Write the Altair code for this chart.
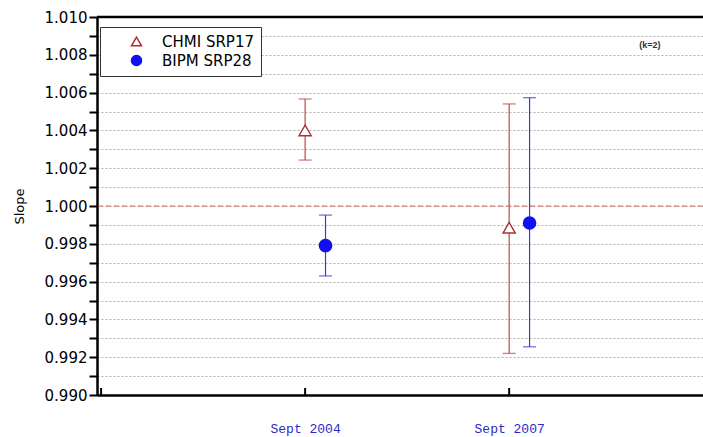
import altair as alt
import pandas as pd

# ---- data ----
series = ["CHMI SRP17", "BIPM SRP28"]
x_pos = [1.0, 1.1, 2.0, 2.1]
labs = ["CHMI SRP17", "BIPM SRP28", "CHMI SRP17", "BIPM SRP28"]
slope = [1.0040, 0.99790, 0.99885, 0.99910]
low = [1.00243, 0.99630, 0.99220, 0.99255]
high = [1.00566, 0.99952, 1.00540, 1.00573]

tick_pos = [1, 2]
tick_labels = ["Sept 2004", "Sept 2007"]
y_ticks = [round(0.990 + 0.001 * i, 3) for i in range(21)]

df = pd.DataFrame({"x": x_pos, "series": labs, "slope": slope, "low": low, "high": high})
ticks_df = pd.DataFrame({"x": [0] + tick_pos})
ref_df = pd.DataFrame({"y": [1.0]})
top_df = pd.DataFrame({"y": [1.010]})
ann_df = pd.DataFrame({"x": [2.69], "y": [1.0085], "t": ["(k=2)"]})

W, H = 606, 378
xdom = [-0.02, 2.95]
ydom = [0.990, 1.010]

stroke_cols = ["#a83232", "#1010f0"]
bar_cols = ["#b84a4a", "#3a3ad0"]
fill_cols = ["white", "#1010f0"]

label_expr = " : ".join(
    [f"datum.value == {p} ? '{l}'" for p, l in zip(tick_pos, tick_labels)]
) + " : ''"

xs = alt.Scale(domain=xdom, nice=False, zero=False)
ys = alt.Scale(domain=ydom, nice=False, zero=False)

x_axis = alt.Axis(values=[0] + tick_pos, labelExpr=label_expr, title=None, grid=False,
                  tickSize=0, labelPadding=27, labelFont="Liberation Mono",
                  labelFontSize=13, labelColor="#2a2acc", domainColor="black",
                  domainWidth=2.5)
y_axis = alt.Axis(values=y_ticks, format=".3f",
                  labelExpr="round(datum.value*1000) % 2 === 0 ? datum.label : ''",
                  labelOverlap=False,
                  title="Slope", titleFont="DejaVu Sans", titleFontSize=13,
                  titleFontWeight="normal", titleColor="black", titlePadding=18,
                  labelFont="DejaVu Sans", labelFontSize=15, labelColor="black",
                  tickColor="black", tickWidth=2, tickSize=8, labelPadding=2,
                  domainColor="black", domainWidth=2.5,
                  grid=True, gridColor="#b0b0b0", gridDash=[2, 2], gridWidth=1)


def X(field):
    return alt.X(field, scale=xs, axis=x_axis)


def Y(field):
    return alt.Y(field, scale=ys, axis=y_axis, title="Slope")


ref_line = alt.Chart(ref_df).mark_rule(color="#e05a5a", strokeDash=[5, 3], strokeWidth=1).encode(
    y=Y("y:Q")
)
top_line = alt.Chart(top_df).mark_rule(color="black", strokeWidth=2.5).encode(
    y=Y("y:Q")
)
xticks = alt.Chart(ticks_df).mark_rule(color="black", strokeWidth=2).encode(
    x=X("x:Q"), y=alt.value(H), y2=alt.value(H - 7)
)

color_scale = alt.Scale(domain=series, range=bar_cols)
bars = alt.Chart(df).mark_rule(strokeWidth=1.2).encode(
    x=X("x:Q"),
    y=Y("low:Q"),
    y2="high:Q",
    color=alt.Color("series:N", scale=color_scale, legend=None),
)
cap_lo = alt.Chart(df).mark_tick(orient="horizontal", size=13, thickness=1.3).encode(
    x=X("x:Q"),
    y=Y("low:Q"),
    color=alt.Color("series:N", scale=color_scale, legend=None),
)
cap_hi = alt.Chart(df).mark_tick(orient="horizontal", size=13, thickness=1.3).encode(
    x=X("x:Q"),
    y=Y("high:Q"),
    color=alt.Color("series:N", scale=color_scale, legend=None),
)

legend = alt.Legend(title=None, orient="none", legendX=3, legendY=10,
                    strokeColor="#333333", fillColor="white", padding=7,
                    labelFont="DejaVu Sans", labelFontSize=15, labelColor="black",
                    symbolOffset=22, labelOffset=18, rowPadding=2, symbolSize=100,
                    symbolStrokeWidth=1.5)
points = alt.Chart(df).mark_point(filled=True, size=150, strokeWidth=1.4, opacity=1).encode(
    x=X("x:Q"),
    y=Y("slope:Q"),
    shape=alt.Shape("series:N", scale=alt.Scale(domain=series, range=["triangle-up", "circle"]), legend=legend),
    stroke=alt.Stroke("series:N", scale=alt.Scale(domain=series, range=stroke_cols), legend=legend),
    fill=alt.Fill("series:N", scale=alt.Scale(domain=series, range=fill_cols), legend=legend),
)

ann = alt.Chart(ann_df).mark_text(fontSize=9, font="Liberation Sans", fontWeight="bold", color="#333333").encode(
    x=X("x:Q"), y=Y("y:Q"), text="t:N"
)

chart = alt.layer(
    ref_line, bars, cap_lo, cap_hi, points, top_line, xticks, ann
).resolve_scale(color="independent").properties(
    width=W, height=H,
    autosize=alt.AutoSizeParams(type="none"),
    padding={"left": 97, "top": 17, "right": 0, "bottom": 42},
    background="white",
).configure_view(stroke=None)

chart.save("out.html", embed_options={"renderer": "svg", "actions": False})
